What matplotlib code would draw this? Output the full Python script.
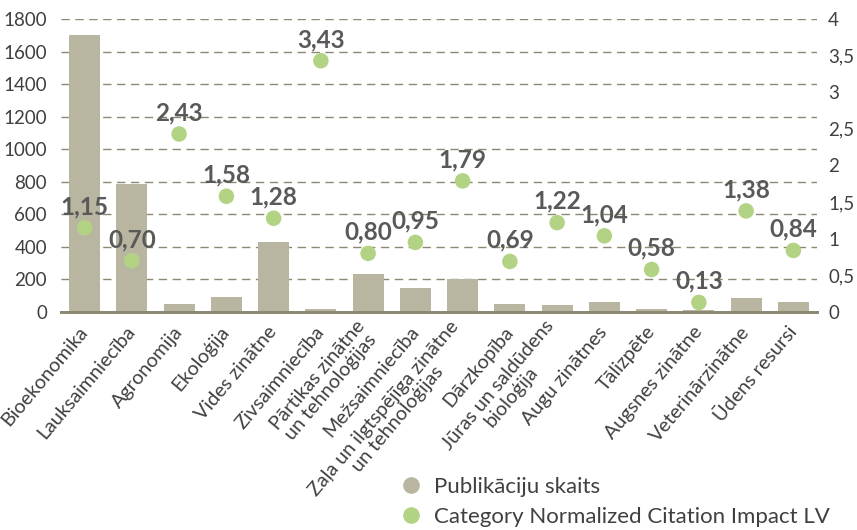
import matplotlib.pyplot as plt
from matplotlib.lines import Line2D
import numpy as np

plt.rcParams['font.family'] = ['Lato', 'DejaVu Sans']

categories = ["Bioekonomika", "Lauksaimniecība", "Agronomija", "Ekoloģija",
              "Vides zinātne", "Zivsaimniecība", "Pārtikas zinātne\nun tehnoloģijas",
              "Mežsaimniecība", "Zaļa un ilgtspējīga zinātne\nun tehnoloģijas",
              "Dārzkopība", "Jūras un saldūdens\nbioloģija", "Augu zinātnes",
              "Tālizpēte", "Augsnes zinātne", "Veterinārzinātne", "Ūdens resursi"]
publications = [1700, 785, 49, 92, 430, 18, 233, 147, 203, 49, 43, 61, 18, 14, 86, 61]
cnci = [1.15, 0.70, 2.43, 1.58, 1.28, 3.43, 0.80, 0.95, 1.79, 0.69, 1.22, 1.04,
        0.58, 0.13, 1.38, 0.84]

bar_color = '#b8b5a1'
dot_color = '#b3d384'
grid_color = '#8c8872'
text_color = '#404040'

fig = plt.figure(figsize=(8.57, 5.30), dpi=100)
ax = fig.add_axes([61/857, 1 - 312/530, (817-61)/857, (312-19)/530])
ax2 = ax.twinx()

x = np.arange(len(categories))
ax.bar(x, publications, width=0.66, color=bar_color, zorder=2)
ax.set_xlim(-0.5, len(categories) - 0.5)
ax.set_ylim(0, 1800)
ax.set_yticks(range(0, 1801, 200))
ax.yaxis.grid(True, linestyle=(0, (6, 4)), color=grid_color, linewidth=1.0, zorder=0)
ax.set_axisbelow(True)

ax2.scatter(x, cnci, s=125, color=dot_color, zorder=3, edgecolors='none')
for xi, v in zip(x, cnci):
    ax2.annotate(f"{v:.2f}".replace('.', ','), (xi, v), xytext=(0, 7),
                 textcoords='offset points', ha='center', va='bottom',
                 fontsize=17.5, fontweight='bold', color='#595959')
ax2.set_ylim(0, 4)
ax2.set_yticks(np.arange(0, 4.01, 0.5))
ax2.set_yticklabels([f"{t:g}".replace('.', ',') for t in np.arange(0, 4.01, 0.5)])

for a in (ax, ax2):
    for s in ('top', 'left', 'right'):
        a.spines[s].set_visible(False)
    a.spines['bottom'].set_color(grid_color)
    a.spines['bottom'].set_linewidth(2)
    a.tick_params(axis='y', length=0, labelsize=13.5, colors=text_color, pad=10)
ax2.tick_params(axis='y', pad=8)

ax.set_xticks(x)
ax.set_xticklabels(categories, rotation=50, ha='right', va='center',
                   rotation_mode='anchor', multialignment='center',
                   fontsize=14.2, color=text_color, linespacing=1.05)
ax.tick_params(axis='x', length=0, pad=12)

handles = [
    Line2D([], [], marker='o', linestyle='none', markersize=12,
           markerfacecolor=bar_color, markeredgecolor='none', label="Publikāciju skaits"),
    Line2D([], [], marker='o', linestyle='none', markersize=12,
           markerfacecolor=dot_color, markeredgecolor='none',
           label="Category Normalized Citation Impact LV"),
]
fig.legend(handles=handles, loc='upper left', bbox_to_anchor=(395/857, 1 - 477/530),
           frameon=False, fontsize=16, handletextpad=0.35, labelspacing=0.45,
           handlelength=1.4, borderaxespad=0, borderpad=0, labelcolor=text_color)

fig.savefig('out.png', dpi=100)
